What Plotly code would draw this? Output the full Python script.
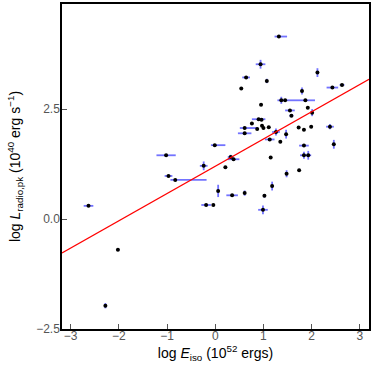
import plotly.graph_objects as go

# log E_iso (10^52 ergs) and log L_radio,pk (10^40 erg/s)
log_eiso = [-2.63, -2.28, -2.02, -1.02, -0.97, -0.83, -0.24, -0.19, -0.04, -0.01,
            0.06, 0.21, 0.32, 0.38, 0.35, 0.61, 1.02, 0.99, 1.18, 1.48,
            1.74, 1.15, 1.84, 1.84, 1.93, 1.35, 1.13, 1.26, 1.47, 0.61,
            0.87, 0.61, 0.97, 1.00, 1.11, 0.76, 0.90, 0.96, 1.73, 1.84,
            1.99, 2.38, 2.46, 1.55, 1.58, 1.92, 2.01, 1.37, 1.45, 1.87,
            0.95, 0.54, 1.07, 0.64, 0.94, 1.32, 1.80, 2.12, 2.43, 2.63]
log_lrad = [0.30, -1.97, -0.70, 1.45, 0.98, 0.89, 1.21, 0.32, 0.32, 1.68,
            0.64, 1.18, 1.41, 1.36, 0.54, 0.59, 0.53, 0.21, 0.75, 1.03,
            1.11, 1.40, 1.67, 1.45, 1.45, 1.76, 1.81, 1.98, 1.93, 1.95,
            2.05, 2.07, 2.12, 2.07, 2.09, 2.17, 2.27, 2.26, 2.08, 2.03,
            2.10, 2.10, 1.70, 2.47, 2.35, 2.53, 2.42, 2.70, 2.70, 2.70,
            2.60, 2.97, 3.14, 3.22, 3.52, 4.15, 2.91, 3.33, 2.99, 3.05]
xerr_plus = [0.10, 0.00, 0.03, 0.20, 0.08, 0.65, 0.08, 0.10, 0.00, 0.22,
             0.00, 0.00, 0.06, 0.12, 0.12, 0.00, 0.03, 0.10, 0.00, 0.00,
             0.00, 0.00, 0.10, 0.08, 0.06, 0.00, 0.10, 0.08, 0.00, 0.14,
             0.00, 0.27, 0.00, 0.00, 0.00, 0.00, 0.14, 0.00, 0.00, 0.00,
             0.00, 0.08, 0.00, 0.10, 0.04, 0.00, 0.00, 0.08, 0.00, 0.20,
             0.00, 0.00, 0.00, 0.08, 0.10, 0.17, 0.00, 0.00, 0.12, 0.05]
xerr_minus = [0.10, 0.00, 0.03, 0.20, 0.08, 0.10, 0.08, 0.10, 0.00, 0.08,
              0.00, 0.00, 0.06, 0.12, 0.12, 0.00, 0.03, 0.10, 0.00, 0.00,
              0.00, 0.00, 0.10, 0.08, 0.06, 0.00, 0.10, 0.08, 0.00, 0.14,
              0.00, 0.10, 0.00, 0.00, 0.00, 0.00, 0.14, 0.00, 0.00, 0.00,
              0.00, 0.08, 0.00, 0.10, 0.04, 0.00, 0.00, 0.08, 0.00, 0.40,
              0.00, 0.00, 0.00, 0.08, 0.10, 0.09, 0.00, 0.00, 0.12, 0.05]
yerr = [0.00, 0.06, 0.00, 0.00, 0.00, 0.00, 0.10, 0.00, 0.00, 0.00,
        0.14, 0.00, 0.05, 0.00, 0.00, 0.06, 0.04, 0.10, 0.10, 0.08,
        0.03, 0.00, 0.00, 0.08, 0.10, 0.00, 0.00, 0.08, 0.10, 0.00,
        0.00, 0.00, 0.00, 0.00, 0.00, 0.00, 0.00, 0.00, 0.00, 0.00,
        0.00, 0.06, 0.10, 0.00, 0.03, 0.00, 0.08, 0.08, 0.00, 0.00,
        0.00, 0.00, 0.05, 0.00, 0.10, 0.00, 0.08, 0.10, 0.00, 0.00]

# best-fit line
fit_slope = 0.62
fit_intercept = 1.2
x_range = [-3.18, 3.19]
y_range = [-2.5, 4.89]

err_col = "rgba(40,40,255,0.65)"

fig = go.Figure()

fig.add_trace(go.Scatter(
    x=log_eiso, y=log_lrad, mode="markers",
    marker=dict(color="black", size=4),
    error_x=dict(type="data", symmetric=False, array=xerr_plus, arrayminus=xerr_minus,
                 color=err_col, thickness=1.8, width=0),
    error_y=dict(type="data", array=yerr, color=err_col, thickness=1.8, width=0),
    showlegend=False,
))

fig.add_trace(go.Scatter(
    x=x_range, y=[fit_slope * v + fit_intercept for v in x_range],
    mode="lines", line=dict(color="red", width=1.2), showlegend=False,
))

axis_style = dict(
    showline=True, linecolor="black", linewidth=1.5, mirror=True,
    ticks="inside", ticklen=5, tickcolor="#555", tickwidth=1,
    showgrid=False, zeroline=False,
    tickfont=dict(size=12, color="#555"),
)

fig.update_xaxes(range=x_range, tickvals=[-3, -2, -1, 0, 1, 2, 3],
                 ticktext=["\u22123", "\u22122", "\u22121", "0", "1", "2", "3"],
                 ticklabelstandoff=-5,
                 title=dict(text="log <i>E</i><sub>iso</sub> (10<sup>52</sup> ergs)",
                            font=dict(size=14, color="black"), standoff=4),
                 **axis_style)
fig.update_yaxes(range=y_range, tickvals=[-2.5, 0, 2.5], ticktext=["\u22122.5", "0.0", "2.5"],
                 ticklabelstandoff=-2,
                 title=dict(text="log <i>L</i><sub>radio,pk</sub> (10<sup>40</sup> erg s<sup>\u22121</sup>)",
                            font=dict(size=14, color="black"), standoff=12),
                 **axis_style)

fig.update_layout(
    width=374, height=374,
    margin=dict(l=62, r=5, t=4, b=45, autoexpand=False),
    plot_bgcolor="white", paper_bgcolor="white",
    font=dict(family="Liberation Sans, Arial, sans-serif"),
)

fig.write_html("out.html", config={"displayModeBar": False},
               post_script="document.body.style.margin='0';")
